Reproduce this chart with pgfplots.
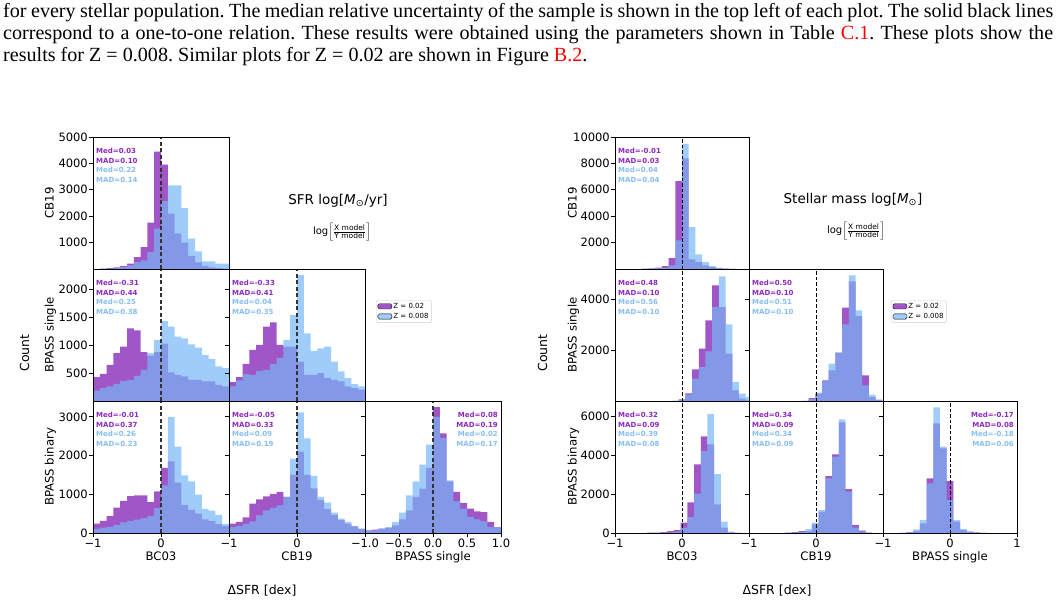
\documentclass[border=0pt]{standalone}
\usepackage{pgfplots}
\usepackage{pgfplotstable}
\pgfplotsset{compat=1.18}
\usepackage{fontspec}
\setmainfont{DejaVu Sans}
\newfontfamily\capfont{Liberation Serif}

\definecolor{pfill}{RGB}{160,86,198}
\definecolor{bfill}{RGB}{120,182,246}
\definecolor{legb}{RGB}{160,204,249}
\definecolor{ptext}{RGB}{140,40,190}
\definecolor{btext}{RGB}{135,190,245}

% SFR residual histograms: bin left edges, last row closes the final bin
\pgfplotstableread{
x    Lap  Lab  Lbp  Lbb  Lcp  Lcb  Ldp  Ldb  Lep  Leb  Lfp  Lfb
-1.0 0    0    427  184  243  104  338  262  242  155  69   69
-0.9 10   5    486  231  312  139  427  369  285  181  86   69
-0.8 30   10   646  260  434  156  664  480  405  242  112  112
-0.7 60   30   854  308  659  208  913  469  759  302  130  155
-0.6 110  70   973  362  833  278  1002 540  871  457  198  285
-0.5 200  140  1299 380  954  312  1330 558  949  587  354  526
-0.4 450  260  1263 450  971  347  1407 658  1010 647  587  975
-0.3 830  330  872  557  971  382  1002 765  1061 716  932  1337
-0.2 1760 640  812  854  798  434  973  1091 932  932  1148 1769
-0.1 4450 1530 872  1091 1075 642  973  1537 1500 1924 1683 2286
0.0  3950 2570 1026 1429 1683 1232 706  2249 2100 3115 3250 3000
0.1  2100 3170 510  1329 1850 3000 469  1210 1500 2442 2571 2459
0.2  1350 3170 469  1150 1300 2230 469  895  1150 1475 1337 1363
0.3  1000 2310 440  1121 730  1490 498  943  850  932  1061 820
0.4  500  1150 380  1014 600  1336 409  973  620  785  777  630
0.5  250  670  380  955  500  990  380  706  470  526  630  414
0.6  120  290  350  824  350  624  350  528  330  371  561  354
0.7  60   290  350  753  310  580  262  409  240  285  540  302
0.8  30   200  290  617  230  468  232  302  170  181  290  155
0.9  15   200  260  587  180  234  202  262  110  112  155  155
1.0  15   200  260  587  180  234  202  262  110  112  155  155
}\sfrhist

% Stellar-mass residual histograms
\pgfplotstableread{
x    p    b
-0.6 20   10
-0.5 40   20
-0.4 114  60
-0.3 216  114
-0.2 825  266
-0.1 6660 2170
0.0  8390 9480
0.1  723  3173
0.2  520  1104
0.3  266  520
0.4  140  216
0.5  60   114
0.6  20   30
0.7  5    10
0.8  5    10
}\mAA
\pgfplotstableread{
x     p    b
-0.15 10   10
-0.05 60   40
0.05  300  250
0.15  1242 876
0.25  2052 1333
0.35  3163 1948
0.45  4536 3686
0.55  3686 4889
0.65  1856 3007
0.75  418  745
0.85  92   288
0.95  20   150
1.05  20   150
}\mBA
\pgfplotstableread{
x     p    b
-0.52 15   5
-0.42 25   10
-0.32 50   20
-0.22 100  35
-0.12 150  70
-0.02 531  274
0.08  1577 823
0.18  3530 2022
0.28  4970 4216
0.38  4559 6118
0.48  1474 3033
0.58  274  583
0.68  35   70
0.78  10   15
0.88  10   15
}\mCA
\pgfplotstableread{
x     p    b
-0.21 10   10
-0.11 118  80
-0.01 288  327
0.09  810  810
0.19  1203 1464
0.29  1895 1895
0.39  3660 3007
0.49  4693 4928
0.59  3333 3556
0.69  1006 614
0.79  157  248
0.89  30   60
0.99  30   60
}\mBB
\pgfplotstableread{
x     p    b
-0.46 20   10
-0.36 50   30
-0.26 100  60
-0.16 100  205
-0.06 446  531
0.04  1097 1182
0.14  2930 2811
0.24  4045 3925
0.34  5690 5844
0.44  2262 2125
0.54  411  274
0.64  120  69
0.74  20   10
0.84  20   10
}\mCB
\pgfplotstableread{
x     p    b
-0.75 10   10
-0.65 40   50
-0.55 100  188
-0.45 497  668
-0.35 2811 2554
-0.25 5638 6461
-0.15 4353 4439
-0.05 2674 1697
0.05  583  668
0.15  154  205
0.25  69   69
0.35  34   34
0.45  10   10
0.55  10   10
}\mCC

\tikzset{
  stats/.style={anchor=north west, inner sep=0pt, align=left,
    font=\fontsize{7}{9.7}\selectfont\bfseries, xshift=3pt, yshift=-11pt},
  statsr/.style={anchor=north east, inner sep=0pt, align=right,
    font=\fontsize{7}{9.7}\selectfont\bfseries, xshift=-3pt, yshift=-11pt},
}

\pgfplotsset{
  panel/.style={
    scale only axis, height=132pt,
    anchor=north west,
    xmin=-1, xmax=1, ymin=0,
    axis on top,
    axis line style={black, line width=1pt},
    tick style={black, line width=0.9pt},
    tick align=outside, major tick length=4pt,
    xtick pos=left, ytick pos=left,
    tick label style={font=\fontsize{11.5}{13}\selectfont},
    yticklabel style={inner sep=1pt},
    xticklabel style={inner sep=1.5pt},
    /pgf/number format/assume math mode=true,
    scaled y ticks=false,
  },
  noylabels/.style={yticklabel=\empty},
  lpanel/.style={panel, width=136pt},
  rpanel/.style={panel, width=134pt},
  phist/.style={const plot mark left, fill=pfill, draw=none},
  bhist/.style={const plot mark left, fill=bfill, fill opacity=0.7, draw=none},
  ldash/.style={black!80, line width=1.2pt, dash pattern=on 4pt off 2.5pt},
  rdash/.style={black, line width=0.9pt, dash pattern=on 3.5pt off 2pt},
  zlegend/.style={
    legend style={at={(#1,0.765)}, anchor=north west,
      draw=black!18, rounded corners=1.5pt, fill=white,
      font=\fontsize{7}{8}\selectfont,
      inner xsep=1.5pt, inner ysep=1.5pt, row sep=0.8pt,
      nodes={inner sep=1.3pt}},
    legend cell align=left,
    legend image code/.code={\path[##1] (0pt,-2.6pt) rectangle (14pt,2.6pt);},
  },
}

\newcommand{\st}[4]{\textcolor{ptext}{Med=#1}\\\textcolor{ptext}{MAD=#2}\\\textcolor{btext}{Med=#3}\\\textcolor{btext}{MAD=#4}}
\newcommand{\capline}{\capfont\fontsize{20.1}{22}\selectfont\frenchspacing}

\begin{document}
\begin{tikzpicture}
\useasboundingbox (0,0) rectangle (1056pt,-603pt);

% caption text above the figure
\node[anchor=base west, inner sep=0pt] at (3pt,-17pt)
  {\capline\hbox to 1050pt{for every stellar population. The median relative uncertainty of the sample is shown in the top left of each plot. The solid black lines}};
\node[anchor=base west, inner sep=0pt] at (3pt,-39.3pt)
  {\capline\hbox to 1050pt{correspond to a one-to-one relation. These results were obtained using the parameters shown in Table \textcolor{red}{C.1}. These plots show the}};
\node[anchor=base west, inner sep=0pt] at (3pt,-61.6pt)
  {\capline results for Z = 0.008. Similar plots for Z = 0.02 are shown in Figure \textcolor{red}{B.2}.};

% ---------------- SFR corner ----------------
\begin{axis}[lpanel, at={(93pt,-137pt)}, ymax=5000, xtick=\empty,
  ytick={1000,2000,3000,4000,5000}, yticklabels={1000,2000,3000,4000,5000}]
  \addplot[phist] table[x=x,y=Lap]{\sfrhist} \closedcycle;
  \addplot[bhist] table[x=x,y=Lab]{\sfrhist} \closedcycle;
  \addplot[ldash] coordinates {(0,0) (0,5000)};
  \node[stats] at (rel axis cs:0,1) {\st{0.03}{0.10}{0.22}{0.14}};
\end{axis}

\begin{axis}[lpanel, at={(93pt,-269pt)}, ymax=2360, xtick=\empty,
  ytick={500,1000,1500,2000}, yticklabels={500,1000,1500,2000}]
  \addplot[phist] table[x=x,y=Lbp]{\sfrhist} \closedcycle;
  \addplot[bhist] table[x=x,y=Lbb]{\sfrhist} \closedcycle;
  \addplot[ldash] coordinates {(0,0) (0,2360)};
  \node[stats] at (rel axis cs:0,1) {\st{-0.31}{0.44}{0.25}{0.38}};
\end{axis}

\begin{axis}[lpanel, at={(229pt,-269pt)}, ymax=2360, xtick=\empty,
  ytick={500,1000,1500,2000}, noylabels, zlegend=1.081]
  \addlegendimage{fill=pfill}
  \addlegendentry{Z = 0.02}
  \addlegendimage{fill=legb}
  \addlegendentry{Z = 0.008}
  \addplot[phist] table[x=x,y=Ldp]{\sfrhist} \closedcycle;
  \addplot[bhist] table[x=x,y=Ldb]{\sfrhist} \closedcycle;
  \addplot[ldash] coordinates {(0,0) (0,2360)};
  \node[stats] at (rel axis cs:0,1) {\st{-0.33}{0.41}{0.04}{0.35}};
\end{axis}

\begin{axis}[lpanel, at={(93pt,-401pt)}, ymax=3410,
  xtick={-1,0}, xticklabels={−1,0},
  ytick={0,1000,2000,3000}, yticklabels={0,1000,2000,3000}]
  \addplot[phist] table[x=x,y=Lcp]{\sfrhist} \closedcycle;
  \addplot[bhist] table[x=x,y=Lcb]{\sfrhist} \closedcycle;
  \addplot[ldash] coordinates {(0,0) (0,3410)};
  \node[stats] at (rel axis cs:0,1) {\st{-0.01}{0.37}{0.26}{0.23}};
\end{axis}

\begin{axis}[lpanel, at={(229pt,-401pt)}, ymax=3410,
  xtick={-1,0}, xticklabels={−1,0},
  ytick={0,1000,2000,3000}, noylabels]
  \addplot[phist] table[x=x,y=Lep]{\sfrhist} \closedcycle;
  \addplot[bhist] table[x=x,y=Leb]{\sfrhist} \closedcycle;
  \addplot[ldash] coordinates {(0,0) (0,3410)};
  \node[stats] at (rel axis cs:0,1) {\st{-0.05}{0.33}{0.09}{0.19}};
\end{axis}

\begin{axis}[lpanel, at={(365pt,-401pt)}, ymax=3410,
  xtick={-1,-0.5,0,0.5,1}, xticklabels={−1.0,−0.5,0.0,0.5,1.0},
  ytick={0,1000,2000,3000}, noylabels]
  \addplot[phist] table[x=x,y=Lfp]{\sfrhist} \closedcycle;
  \addplot[bhist] table[x=x,y=Lfb]{\sfrhist} \closedcycle;
  \addplot[ldash] coordinates {(0,0) (0,3410)};
  \node[statsr] at (rel axis cs:1,1) {\st{0.08}{0.19}{0.02}{0.17}};
\end{axis}

% ---------------- stellar mass corner ----------------
\begin{axis}[rpanel, at={(615pt,-137pt)}, ymax=10000, xtick=\empty,
  ytick={2000,4000,6000,8000,10000}, yticklabels={2000,4000,6000,8000,10000}]
  \addplot[phist] table[x=x,y=p]{\mAA} \closedcycle;
  \addplot[bhist] table[x=x,y=b]{\mAA} \closedcycle;
  \addplot[rdash] coordinates {(0,0) (0,10000)};
  \node[stats] at (rel axis cs:0,1) {\st{-0.01}{0.03}{0.04}{0.04}};
\end{axis}

\begin{axis}[rpanel, at={(615pt,-269pt)}, ymax=5180, xtick=\empty,
  ytick={2000,4000}, yticklabels={2000,4000}]
  \addplot[phist] table[x=x,y=p]{\mBA} \closedcycle;
  \addplot[bhist] table[x=x,y=b]{\mBA} \closedcycle;
  \addplot[rdash] coordinates {(0,0) (0,5180)};
  \node[stats] at (rel axis cs:0,1) {\st{0.48}{0.10}{0.56}{0.10}};
\end{axis}

\begin{axis}[rpanel, at={(749pt,-269pt)}, ymax=5180, xtick=\empty,
  ytick={2000,4000}, noylabels, zlegend=1.06]
  \addlegendimage{fill=pfill}
  \addlegendentry{Z = 0.02}
  \addlegendimage{fill=legb}
  \addlegendentry{Z = 0.008}
  \addplot[phist] table[x=x,y=p]{\mBB} \closedcycle;
  \addplot[bhist] table[x=x,y=b]{\mBB} \closedcycle;
  \addplot[rdash] coordinates {(0,0) (0,5180)};
  \node[stats] at (rel axis cs:0,1) {\st{0.50}{0.10}{0.51}{0.10}};
\end{axis}

\begin{axis}[rpanel, at={(615pt,-401pt)}, ymax=6790,
  xtick={-1,0}, xticklabels={−1,0},
  ytick={0,2000,4000,6000}, yticklabels={0,2000,4000,6000}]
  \addplot[phist] table[x=x,y=p]{\mCA} \closedcycle;
  \addplot[bhist] table[x=x,y=b]{\mCA} \closedcycle;
  \addplot[rdash] coordinates {(0,0) (0,6790)};
  \node[stats] at (rel axis cs:0,1) {\st{0.32}{0.09}{0.39}{0.08}};
\end{axis}

\begin{axis}[rpanel, at={(749pt,-401pt)}, ymax=6790,
  xtick={-1,0}, xticklabels={−1,0},
  ytick={0,2000,4000,6000}, noylabels]
  \addplot[phist] table[x=x,y=p]{\mCB} \closedcycle;
  \addplot[bhist] table[x=x,y=b]{\mCB} \closedcycle;
  \addplot[rdash] coordinates {(0,0) (0,6790)};
  \node[stats] at (rel axis cs:0,1) {\st{0.34}{0.09}{0.34}{0.09}};
\end{axis}

\begin{axis}[rpanel, at={(883pt,-401pt)}, ymax=6790,
  xtick={-1,0,1}, xticklabels={−1,0,1},
  ytick={0,2000,4000,6000}, noylabels]
  \addplot[phist] table[x=x,y=p]{\mCC} \closedcycle;
  \addplot[bhist] table[x=x,y=b]{\mCC} \closedcycle;
  \addplot[rdash] coordinates {(0,0) (0,6790)};
  \node[statsr] at (rel axis cs:1,1) {\st{-0.17}{0.08}{-0.18}{0.06}};
\end{axis}

% ---------------- labels and titles ----------------
\begin{scope}[every node/.style={font=\fontsize{11.7}{14}\selectfont}]
  \node[rotate=90, anchor=base] at (53.5pt,-203pt) {CB19};
  \node[rotate=90, anchor=base] at (53.5pt,-335pt) {BPASS single};
  \node[rotate=90, anchor=base] at (53.5pt,-467pt) {BPASS binary};
  \node[rotate=90, anchor=base] at (576.5pt,-203pt) {CB19};
  \node[rotate=90, anchor=base] at (576.5pt,-335pt) {BPASS single};
  \node[rotate=90, anchor=base] at (576.5pt,-467pt) {BPASS binary};
  \node[anchor=base] at (161pt,-560pt) {BC03};
  \node[anchor=base] at (297pt,-560pt) {CB19};
  \node[anchor=base] at (433pt,-560pt) {BPASS single};
  \node[anchor=base] at (682pt,-560pt) {BC03};
  \node[anchor=base] at (816pt,-560pt) {CB19};
  \node[anchor=base] at (950pt,-560pt) {BPASS single};
\end{scope}
\begin{scope}[every node/.style={font=\fontsize{12.5}{15}\selectfont}]
  \node[rotate=90, anchor=base] at (29pt,-353pt) {Count};
  \node[rotate=90, anchor=base] at (547pt,-353pt) {Count};
  \node[anchor=base] at (262pt,-594pt) {ΔSFR [dex]};
  \node[anchor=base] at (777pt,-594pt) {ΔSFR [dex]};
\end{scope}
\node[font=\fontsize{13.5}{16}\selectfont] at (338pt,-201pt)
  {SFR log[\textit{M}\textsubscript{⊙}/yr]};
\node[font=\fontsize{13.5}{16}\selectfont] at (853pt,-200pt)
  {Stellar mass log[\textit{M}\textsubscript{⊙}]};
\node[font=\fontsize{10}{12}\selectfont] at (342pt,-232pt)
  {log\(\left[\frac{\mbox{\fontsize{7.5}{8}\selectfont X model}}{\mbox{\fontsize{7.5}{8}\selectfont Y model}}\right]\)};
\node[font=\fontsize{10}{12}\selectfont] at (856pt,-231pt)
  {log\(\left[\frac{\mbox{\fontsize{7.5}{8}\selectfont X model}}{\mbox{\fontsize{7.5}{8}\selectfont Y model}}\right]\)};
\end{tikzpicture}
\end{document}
